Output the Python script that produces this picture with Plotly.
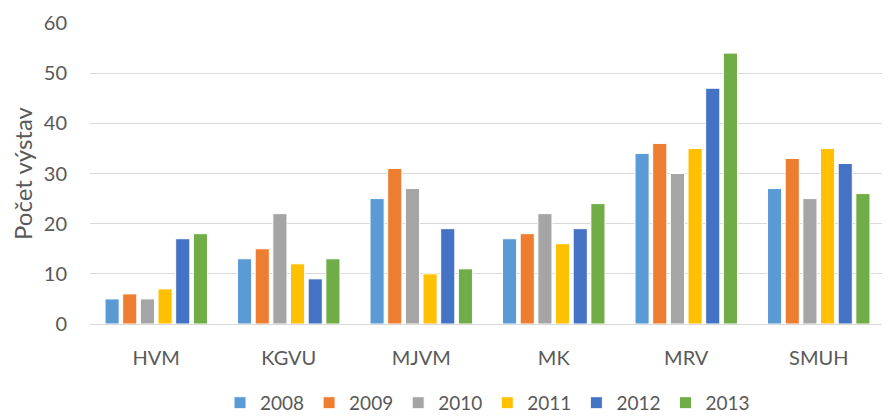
import plotly.graph_objects as go

kategorie = ['HVM', 'KGVU', 'MJVM', 'MK', 'MRV', 'SMUH']
roky = ['2008', '2009', '2010', '2011', '2012', '2013']
hodnoty_2008 = [5, 13, 25, 17, 34, 27]
hodnoty_2009 = [6, 15, 31, 18, 36, 33]
hodnoty_2010 = [5, 22, 27, 22, 30, 25]
hodnoty_2011 = [7, 12, 10, 16, 35, 35]
hodnoty_2012 = [17, 9, 19, 19, 47, 32]
hodnoty_2013 = [18, 13, 11, 24, 54, 26]

serie = [hodnoty_2008, hodnoty_2009, hodnoty_2010, hodnoty_2011, hodnoty_2012, hodnoty_2013]
barvy = ['#5B9BD5', '#ED7D31', '#A5A5A5', '#FFC000', '#4472C4', '#70AD47']

fig = go.Figure()
for rok, vals, barva in zip(roky, serie, barvy):
    fig.add_trace(go.Bar(
        x=kategorie, y=vals, name=rok,
        marker=dict(color=barva, line=dict(color='white', width=1)),
    ))

# stranka ma 8px okraj, proto je obrazek o 8px mensi
fig.update_layout(
    width=882, height=409,
    barmode='group', bargap=0.2, bargroupgap=0.2,
    plot_bgcolor='white', paper_bgcolor='white',
    font=dict(family='Lato, Noto Sans, sans-serif', size=20, color='#595959'),
    margin=dict(l=82, r=5, t=15, b=93, autoexpand=False),
    legend=dict(orientation='h', x=0.5, xanchor='center', y=-0.262, yanchor='middle',
                font=dict(size=19), itemwidth=30, traceorder='normal'),
)
fig.update_yaxes(range=[0, 60], dtick=10, showgrid=True, gridcolor='#D9D9D9', gridwidth=1,
                 zeroline=True, zerolinecolor='#D9D9D9', zerolinewidth=1,
                 ticks='', ticklabelstandoff=22, automargin=False,
                 title=dict(text='Počet výstav', standoff=12))
fig.update_xaxes(showline=True, linecolor='#D9D9D9', ticks='', ticklabelstandoff=16,
                 automargin=False)

fig.write_html('out.html')
